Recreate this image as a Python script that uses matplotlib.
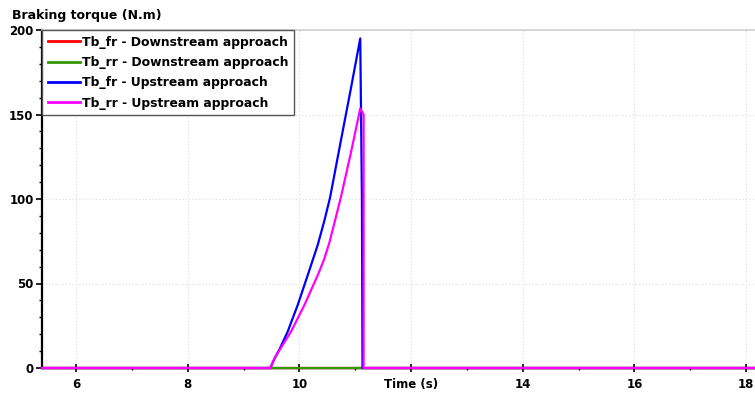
import matplotlib
matplotlib.use("Agg")
import matplotlib.pyplot as plt
from matplotlib.ticker import MultipleLocator, FixedLocator, FixedFormatter

# ---- data ----
t_down = [5.39, 18.2]
tb_fr_down = [0, 0]
tb_rr_down = [0, 0]

t_up_fr = [5.39, 9.48, 9.56, 9.65, 9.79, 9.97, 10.15, 10.33, 10.45, 10.55, 10.74, 10.92, 11.09, 11.12, 11.13, 18.2]
tb_fr_up = [0, 0, 6.0, 11.5, 21.5, 37.3, 55, 73, 87.5, 101, 134, 165, 195, 100, 0, 0]

t_up_rr = [5.39, 9.48, 9.56, 9.66, 9.85, 10.09, 10.33, 10.44, 10.54, 10.64, 10.75, 10.92, 11.09, 11.15, 11.15, 18.2]
tb_rr_up = [0, 0, 6.0, 11.5, 21.5, 37.3, 55, 64, 74.5, 87.5, 102, 127, 153.5, 150, 0, 0]

x_major = [6, 8, 10, 12, 14, 16, 18]
x_labels = ["6", "8", "10", "Time (s)", "14", "16", "18"]
y_major = [0, 50, 100, 150, 200]

series_labels = ["Tb_fr - Downstream approach", "Tb_rr - Downstream approach",
                 "Tb_fr - Upstream approach", "Tb_rr - Upstream approach"]
colors = ["#ff0000", "#339900", "#0000ff", "#ff00ff"]

fig = plt.figure(figsize=(7.55, 3.94), dpi=100)
ax = fig.add_axes([42/755, 1-368/394, 1-42/755, (368-30)/394])

lw = 1.6
ax.plot(t_down, tb_fr_down, color=colors[0], lw=lw, label=series_labels[0], clip_on=False, zorder=3)
ax.plot(t_down, tb_rr_down, color=colors[1], lw=lw, label=series_labels[1], clip_on=False, zorder=4)
ax.plot(t_up_fr, tb_fr_up, color=colors[2], lw=lw, label=series_labels[2], clip_on=False, zorder=5)
ax.plot(t_up_rr, tb_rr_up, color=colors[3], lw=lw, label=series_labels[3], clip_on=False, zorder=6)

ax.set_xlim(5.39, 18.16)
ax.set_ylim(0, 200)

ax.xaxis.set_major_locator(FixedLocator(x_major))
ax.xaxis.set_major_formatter(FixedFormatter(x_labels))
ax.xaxis.set_minor_locator(MultipleLocator(1))
ax.yaxis.set_major_locator(FixedLocator(y_major))
ax.yaxis.set_minor_locator(MultipleLocator(10))

ax.grid(True, which="major", color="#dcdcdc", linestyle=(0, (1, 2)), lw=0.8)

ax.spines["right"].set_visible(False)
ax.spines["top"].set_color("#d0d0d0")
ax.spines["top"].set_linewidth(1.2)
ax.spines["left"].set_color("black")
ax.spines["left"].set_linewidth(1.6)
ax.spines["bottom"].set_color("black")
ax.spines["bottom"].set_linewidth(1.0)

ax.tick_params(axis="y", which="major", direction="out", length=4, width=1.2, labelsize=8.5, pad=2)
ax.tick_params(axis="y", which="minor", direction="out", length=2, width=1.0)
ax.tick_params(axis="x", which="major", direction="inout", length=6, width=1.2, labelsize=8.5, pad=4)
ax.tick_params(axis="x", which="minor", direction="out", length=1.5, width=1.0)
for lab in ax.get_xticklabels() + ax.get_yticklabels():
    lab.set_fontweight("bold")

fig.text(12/755, 1-16/394, "Braking torque (N.m)", fontsize=9, fontweight="bold",
         va="center", ha="left")

leg = ax.legend(loc="upper left", borderaxespad=0, fancybox=False, framealpha=1,
                edgecolor="#555555", prop={"weight": "bold", "size": 8.9},
                handlelength=2.6, handletextpad=0.2, labelspacing=0.6, borderpad=0.45)
leg.get_frame().set_linewidth(1.0)
for l in leg.get_lines():
    l.set_linewidth(2)
leg.set_zorder(10)

fig.savefig("out.png", dpi=100)
